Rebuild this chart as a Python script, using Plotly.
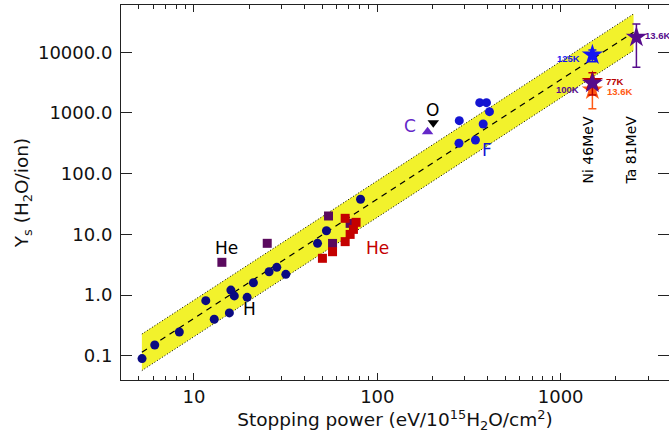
import numpy as np
import plotly.graph_objects as go

# ---- data -------------------------------------------------------------
# light ions (H), stopping power vs sputtering yield
h_sp = [5.21, 6.11, 8.32, 11.6, 12.9, 15.6, 15.9, 16.6, 19.5, 21.1, 25.7, 28.3, 31.7, 47.2, 52.8, 81.0]
h_ys = [0.090, 0.151, 0.247, 0.81, 0.40, 0.51, 1.21, 0.97, 0.92, 1.6, 2.43, 2.87, 2.2, 7.13, 11.5, 37.9]

# heavier ions (F and neighbours)
heavy_sp = [279, 280, 343, 362, 378, 394, 409]
heavy_ys = [317, 747, 359, 1479, 659, 1479, 1050]

# He, two data sets
he_a_sp = [14.2, 25.1, 54.2, 57.0, 71.1]
he_a_ys = [3.47, 7.13, 20.1, 7.1, 15.2]
he_b_sp = [50.2, 57.0, 66.8, 66.8, 71.1, 74.1, 76.6]
he_b_ys = [4.04, 5.19, 7.6, 18.4, 10.0, 12.1, 15.8]

# C and O
c_sp, c_ys = [188], [492]
o_sp, o_ys = [202], [692]

# swift heavy ions: Ni 46 MeV at several temperatures, Ta 81 MeV
ni_sp = 1490
ni_temps = ["13.6K", "77K", "100K", "125K"]
ni_ys = [2390, 3290, 3080, 9030]
ni_hi = [3000, 4610, 3080, 10900]
ni_lo = [1175, 1980, 3080, 7000]
ni_colors = ["#FF5A14", "#B80000", "#560C8C", "#1414F0"]

ta_sp, ta_temp = 2590, "13.6K"
ta_ys, ta_hi, ta_lo = 17650, 29300, 5660
ta_color = "#560C8C"

# power-law fit Y = a * S^b with a factor-2 band
fit_a, fit_b = 0.00447, 1.966
band_factor = 2.0
fit_sp_range = [5.2, 2500]

# axis ranges / ticks
x_range = [4.0, 3900.0]
y_range = [0.04, 60000.0]
y_ticks = [0.1, 1, 10, 100, 1000, 10000]
x_ticks = [10, 100, 1000]

FONT = "DejaVu Sans"

# ---- figure -----------------------------------------------------------
fig = go.Figure()

sp_fit = np.array(fit_sp_range, dtype=float)
ys_fit = fit_a * sp_fit ** fit_b
up = ys_fit * band_factor
dn = ys_fit / band_factor

# yellow band
fig.add_trace(go.Scatter(
    x=[sp_fit[0], sp_fit[1], sp_fit[1], sp_fit[0], sp_fit[0]],
    y=[up[0], up[1], dn[1], dn[0], up[0]],
    mode="lines", fill="toself", fillcolor="#F2F22C",
    line=dict(width=0), hoverinfo="skip", showlegend=False))
for edge in (up, dn):
    fig.add_trace(go.Scatter(x=sp_fit, y=edge, mode="lines",
                             line=dict(color="black", width=1, dash="1px,2px"),
                             showlegend=False))
fig.add_trace(go.Scatter(x=sp_fit, y=ys_fit, mode="lines",
                         line=dict(color="black", width=1.2, dash="6px,5px"),
                         showlegend=False))

# data points
fig.add_trace(go.Scatter(x=h_sp, y=h_ys, mode="markers",
                         marker=dict(symbol="circle", size=9, color="#0A0A82"),
                         showlegend=False))
fig.add_trace(go.Scatter(x=heavy_sp, y=heavy_ys, mode="markers",
                         marker=dict(symbol="circle", size=9, color="#1414D2"),
                         showlegend=False))
fig.add_trace(go.Scatter(x=he_a_sp, y=he_a_ys, mode="markers",
                         marker=dict(symbol="square", size=9, color="#5A0A5E"),
                         showlegend=False))
fig.add_trace(go.Scatter(x=he_b_sp, y=he_b_ys, mode="markers",
                         marker=dict(symbol="square", size=9, color="#C40000"),
                         showlegend=False))
fig.add_trace(go.Scatter(x=c_sp, y=c_ys, mode="markers",
                         marker=dict(symbol="triangle-up", size=10, color="#6428C8"),
                         showlegend=False))
fig.add_trace(go.Scatter(x=o_sp, y=o_ys, mode="markers",
                         marker=dict(symbol="triangle-down", size=10, color="black"),
                         showlegend=False))

for yv, hi, lo, col in zip(ni_ys, ni_hi, ni_lo, ni_colors):
    fig.add_trace(go.Scatter(
        x=[ni_sp], y=[yv], mode="markers",
        marker=dict(symbol="star", size=16, color=col),
        error_y=dict(type="data", symmetric=False, array=[hi - yv],
                     arrayminus=[yv - lo], color=col, thickness=1.5, width=4),
        showlegend=False))
fig.add_trace(go.Scatter(
    x=[ta_sp], y=[ta_ys], mode="markers",
    marker=dict(symbol="star", size=16, color=ta_color),
    error_y=dict(type="data", symmetric=False, array=[ta_hi - ta_ys],
                 arrayminus=[ta_ys - ta_lo], color=ta_color, thickness=1.5, width=4),
    showlegend=False))

# empty trace carrying the right-hand tick axis
fig.add_trace(go.Scatter(x=[], y=[], yaxis="y2", showlegend=False))

# ---- labels -------------------------------------------------------------
def lab(x, y, text, color, size=17, **kw):
    fig.add_annotation(x=np.log10(x), y=np.log10(y), xref="x", yref="y",
                       text=text, showarrow=False,
                       font=dict(family=FONT, size=size, color=color), **kw)

lab(15, 6.0, "He", "black")
lab(100, 6.0, "He", "#C40000")
lab(20, 0.6, "H", "black")
lab(150, 610, "C", "#6428C8")
lab(200, 1120, "O", "black")
lab(395, 250, "F", "#1414D2")

small = dict(family="Liberation Sans", size=9.5)
star_lab = [  # (temperature, y, colour, anchor, xshift, yshift)
    ("125K", ni_ys[3], "#1414F0", "right", -10, -4),
    ("100K", ni_ys[2], "#560C8C", "right", -11, -6),
    ("77K", ni_ys[1], "#B80000", "left", 12, 0),
    ("13.6K", ni_ys[0], "#FF5A14", "left", 13, -2),
]
for t, yv, col, anc, dx, dy in star_lab:
    fig.add_annotation(x=np.log10(ni_sp), y=np.log10(yv), xref="x", yref="y",
                       text="<b>%s</b>" % t, showarrow=False, xanchor=anc,
                       xshift=dx, yshift=dy, font=dict(color=col, **small))
fig.add_annotation(x=np.log10(ta_sp), y=np.log10(ta_ys), xref="x", yref="y",
                   text="<b>%s</b>" % ta_temp, showarrow=False, xanchor="left",
                   xshift=7, yshift=2, font=dict(color=ta_color, **small))

fig.add_annotation(x=np.log10(ni_sp), y=np.log10(245), xref="x", yref="y",
                   text="Ni 46MeV", textangle=-90, showarrow=False, xshift=-4,
                   font=dict(family=FONT, size=14, color="black"))
fig.add_annotation(x=np.log10(ta_sp), y=np.log10(245), xref="x", yref="y",
                   text="Ta 81MeV", textangle=-90, showarrow=False, xshift=-5,
                   font=dict(family=FONT, size=14, color="black"))

# ---- axes ---------------------------------------------------------------
minor_x = [m * 10 ** e for e in range(0, 4) for m in range(2, 10)
           if x_range[0] <= m * 10 ** e <= x_range[1]]

tick_font = dict(family=FONT, size=18, color="#111111")
title_font = dict(family=FONT, size=18.5, color="#111111")
fig.update_layout(
    width=669, height=441,
    margin=dict(l=121, r=0, t=5, b=61),
    paper_bgcolor="white", plot_bgcolor="white",
    xaxis=dict(type="log", range=[np.log10(x_range[0]), np.log10(x_range[1])],
               tickvals=x_ticks, ticktext=[str(v) for v in x_ticks],
               ticks="inside", ticklen=7, tickcolor="#222", tickwidth=1,
               showline=True, linecolor="#222", linewidth=1, mirror="ticks",
               showgrid=False, zeroline=False, tickfont=tick_font,
               minor=dict(tickvals=minor_x, ticks="inside", ticklen=4,
                          tickcolor="#222", showgrid=False),
               title=dict(text="Stopping power (eV/10<sup>15</sup>H<sub>2</sub>O/cm<sup>2</sup>)",
                          font=title_font, standoff=2),
               automargin=False),
    yaxis=dict(type="log", range=[np.log10(y_range[0]), np.log10(y_range[1])],
               tickvals=y_ticks, ticktext=["%.1f" % v for v in y_ticks],
               ticks="inside", ticklen=11, tickcolor="#222", tickwidth=1,
               showline=True, linecolor="#222", linewidth=1,
               showgrid=False, zeroline=False, tickfont=tick_font,
               ticklabelstandoff=4,
               title=dict(text="Y<sub>s</sub> (H<sub>2</sub>O/ion)",
                          font=title_font, standoff=4),
               automargin=False),
    yaxis2=dict(type="log", overlaying="y", side="right",
                range=[np.log10(y_range[0]), np.log10(y_range[1])],
                tickvals=y_ticks, ticks="inside", ticklen=11, tickcolor="#222",
                showticklabels=False, showline=False, showgrid=False,
                zeroline=False, automargin=False),
)

fig.write_html("out.html")
